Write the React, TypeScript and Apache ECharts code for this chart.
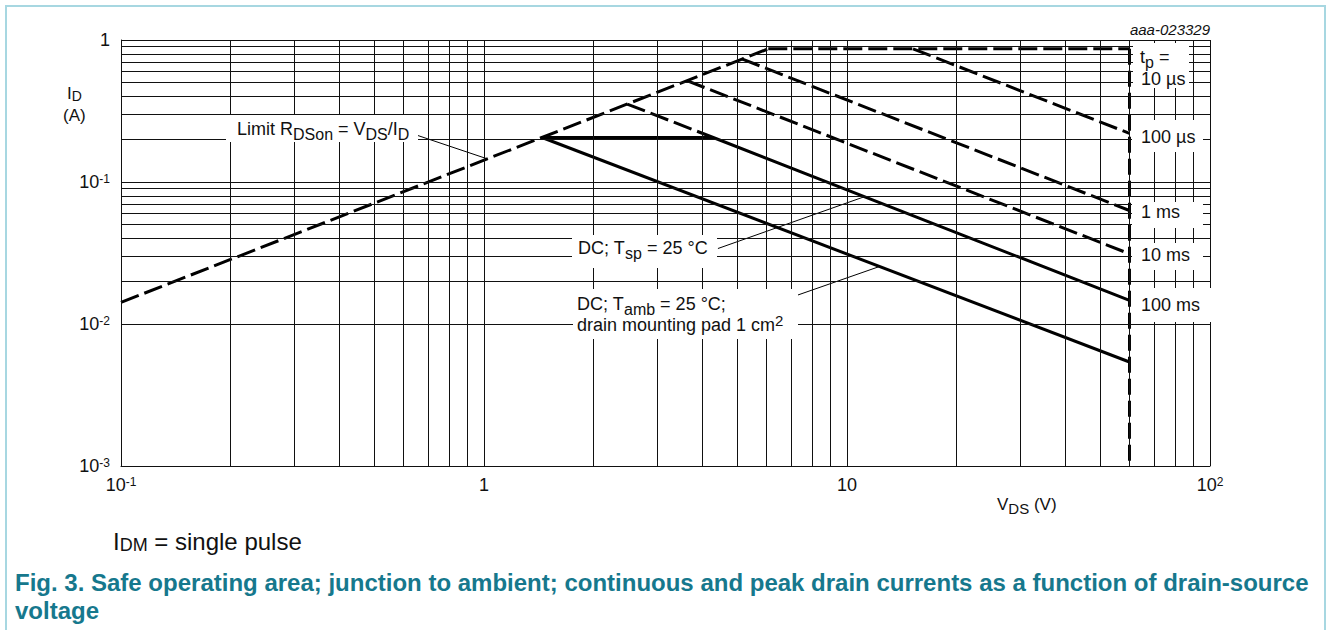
import { useEffect, useRef } from 'react';
import * as echarts from 'echarts';

// Axis decades, grid mantissas and tick labels
const vDecades = [0.1, 1, 10];
const iDecades = [0.001, 0.01, 0.1];
const gridMantissas = [1, 2, 3, 4, 5, 6, 7, 8, 9];
const xTickLabels = ['10{sup|-1}', '1', '10', '10{sup|2}'];
const yTickLabels = ['10{sup|-3}', '10{sup|-2}', '10{sup|-1}', '1'];

// Boundary curves (V_DS in V, I_D in A)
const rdsonV = [0.1, 6.07];
const rdsonI = [0.0142, 0.867];
const tp10usV = [6.07, 60];
const tp10usI = [0.867, 0.867];
const vdsMaxV = [60, 60];
const vdsMaxI = [0.867, 0.001];
const tp100usV = [15.2, 60];
const tp100usI = [0.867, 0.22];
const tp1msV = [5.13, 60];
const tp1msI = [0.737, 0.063];
const tp10msV = [3.62, 60];
const tp10msI = [0.518, 0.0312];
const tp100msV = [2.48, 4.28];
const tp100msI = [0.354, 0.2057];
const dcSpV = [1.445, 4.28, 60];
const dcSpI = [0.2057, 0.2057, 0.01467];
const dcAmbV = [1.445, 60];
const dcAmbI = [0.2057, 0.0054];

// Leader lines from the annotations to their curves
const rdsonLeaderV = [0.645, 1.02];
const rdsonLeaderI = [0.216, 0.1457];
const dcSpLeaderV = [4.41, 11.17];
const dcSpLeaderI = [0.034, 0.0788];
const dcAmbLeaderV = [7.04, 12.29];
const dcAmbLeaderI = [0.01545, 0.0254];

const FONT = '"Liberation Sans", Arial, Helvetica, sans-serif';
const INK = '#111';
const TEAL = '#16788d';

const pair = (xs: number[], ys: number[]) => xs.map((x, i) => [x, ys[i]]);

const gridValues = (decades: number[], last: number) => {
  const out: number[] = [];
  decades.forEach((d) => gridMantissas.forEach((m) => out.push(+(d * m).toPrecision(3))));
  out.push(last);
  return out;
};

const dashed = { type: [19, 6], width: 3, color: '#000', cap: 'butt' };
const solid = { type: 'solid', width: 3, color: '#000' };
const thin = { type: 'solid', width: 1, color: '#000' };

const curve = (name: string, xs: number[], ys: number[], lineStyle: any, z = 3) => ({
  name,
  type: 'line',
  data: pair(xs, ys),
  symbol: 'none',
  showSymbol: false,
  silent: true,
  lineStyle,
  z,
});

const sub = (size: number, drop: number) => ({
  fontSize: size,
  fontFamily: FONT,
  fill: INK,
  padding: [drop, 0, 0, 0],
});
const sup = (size: number, rise: number) => ({
  fontSize: size,
  fontFamily: FONT,
  fill: INK,
  padding: [0, 0, rise, 0],
});

const text = (x: number, y: number, str: string, size: number, rich?: any, extra: any = {}) => ({
  type: 'text',
  x,
  y,
  z: 101,
  silent: true,
  style: {
    text: str,
    fontSize: size,
    fontFamily: FONT,
    fill: INK,
    align: 'left',
    textAlign: 'left',
    verticalAlign: 'middle',
    textVerticalAlign: 'middle',
    rich,
    ...extra,
  },
});

const box = (x: number, y: number, w: number, h: number) => ({
  type: 'rect',
  z: 100,
  silent: true,
  shape: { x, y, width: w, height: h },
  style: { fill: '#fff' },
});

const labelRich = { sub: sub(16, 10) };

const tickRich = {
  base: { fontSize: 18, fontFamily: FONT, color: INK },
  sup: { fontSize: 12, fontFamily: FONT, color: INK, padding: [0, 0, 7, 0] },
};

const option: any = {
  animation: false,
  backgroundColor: '#fff',
  grid: { left: 121, top: 40, width: 1089, height: 426, containLabel: false, outerBoundsMode: 'none' },
  xAxis: {
    type: 'log',
    logBase: 10,
    min: 0.1,
    max: 100,
    axisLine: { show: true, lineStyle: { color: INK, width: 1 } },
    axisTick: { show: false },
    splitLine: { show: false },
    minorTick: { show: false },
    minorSplitLine: { show: false },
    axisLabel: {
      show: true,
      showMinLabel: true,
      showMaxLabel: true,
      margin: 8,
      fontSize: 18,
      lineHeight: 22,
      fontFamily: FONT,
      color: INK,
      rich: tickRich,
      formatter: (v: number) => xTickLabels[Math.round(Math.log10(v)) + 1],
    },
  },
  yAxis: {
    type: 'log',
    logBase: 10,
    min: 0.001,
    max: 1,
    axisLine: { show: true, lineStyle: { color: INK, width: 1 } },
    axisTick: { show: false },
    splitLine: { show: false },
    minorTick: { show: false },
    minorSplitLine: { show: false },
    axisLabel: {
      show: true,
      showMinLabel: true,
      showMaxLabel: true,
      margin: 11,
      fontSize: 18,
      lineHeight: 22,
      fontFamily: FONT,
      color: INK,
      rich: tickRich,
      formatter: (v: number) => yTickLabels[Math.round(Math.log10(v)) + 3],
    },
  },
  series: [
    {
      name: 'grid',
      type: 'line',
      data: [],
      symbol: 'none',
      silent: true,
      z: 1,
      markLine: {
        silent: true,
        symbol: ['none', 'none'],
        label: { show: false },
        lineStyle: { type: 'solid', color: INK, width: 1 },
        data: [
          ...gridValues(vDecades, 100).map((v) => ({ xAxis: v })),
          ...gridValues(iDecades, 1).map((v) => ({ yAxis: v })),
        ],
      },
    },
    curve('Limit RDSon', rdsonV, rdsonI, dashed),
    curve('10 µs', tp10usV, tp10usI, dashed),
    curve('VDS max', vdsMaxV, vdsMaxI, { ...dashed, type: [16, 6] }),
    curve('100 µs', tp100usV, tp100usI, dashed),
    curve('1 ms', tp1msV, tp1msI, dashed),
    curve('10 ms', tp10msV, tp10msI, dashed),
    curve('100 ms', tp100msV, tp100msI, dashed),
    curve('DC Tsp', dcSpV, dcSpI, solid),
    curve('DC Tamb', dcAmbV, dcAmbI, solid),
    curve('RDSon leader', rdsonLeaderV, rdsonLeaderI, thin, 4),
    curve('DC Tsp leader', dcSpLeaderV, dcSpLeaderI, thin, 4),
    curve('DC Tamb leader', dcAmbLeaderV, dcAmbLeaderI, thin, 4),
  ],
  graphic: {
    elements: [
      {
        type: 'rect',
        z: 0,
        silent: true,
        shape: { x: 6, y: 6, width: 1319, height: 700 },
        style: { fill: 'none', stroke: '#a7d7e1', lineWidth: 2 },
      },
      text(1210, 29, 'aaa-023329', 15, undefined, { align: 'right', textAlign: 'right', fontStyle: 'italic' }),
      text(67, 93, 'I{sub|D}', 17, { sub: sub(14, 6) }),
      text(63, 115, '(A)', 17),
      text(997, 504, 'V{sub|DS} (V)', 17, { sub: sub(15, 8) }),

      box(226, 115, 192, 27),
      text(237, 129, 'Limit R{sub|DSon} = V{sub|DS}/I{sub|D}', 18, labelRich),

      box(572, 235, 145, 33),
      text(578, 248, 'DC; T{sub|sp} = 25 °C', 18, labelRich),

      box(573, 289, 225, 50),
      text(577, 304, 'DC; T{sub|amb} = 25 °C;', 18, labelRich),
      text(577, 325, 'drain mounting pad 1 cm{sup|2}', 18, { sup: sup(15, 9) }),

      box(1133, 43, 56, 45),
      text(1140, 57, 't{sub|p} =', 18, labelRich),
      text(1141, 79, '10 µs', 18),

      box(1132, 120, 71, 32),
      text(1141, 137, '100 µs', 18),

      box(1132, 202, 71, 26),
      text(1141, 212, '1 ms', 18),

      box(1132, 243, 71, 27),
      text(1141, 255, '10 ms', 18),

      box(1132, 288, 79, 34),
      text(1141, 305, '100 ms', 18),

      text(113, 541, 'I{sub|DM} = single pulse', 24, { sub: sub(18, 8) }),

      text(15, 582, 'Fig. 3. Safe operating area; junction to ambient; continuous and peak drain currents as a function of drain-source', 24, undefined, { fill: TEAL, fontWeight: 'bold' }),
      text(15, 610, 'voltage', 24, undefined, { fill: TEAL, fontWeight: 'bold' }),
    ],
  },
};

export default function App() {
  const ref = useRef<HTMLDivElement>(null);
  useEffect(() => {
    document.body.style.margin = '0';
    const chart = echarts.init(ref.current!, null, { renderer: 'svg' });
    chart.setOption(option);
    return () => chart.dispose();
  }, []);
  return <div ref={ref} style={{ width: 1328, height: 630, background: '#fff' }} />;
}
